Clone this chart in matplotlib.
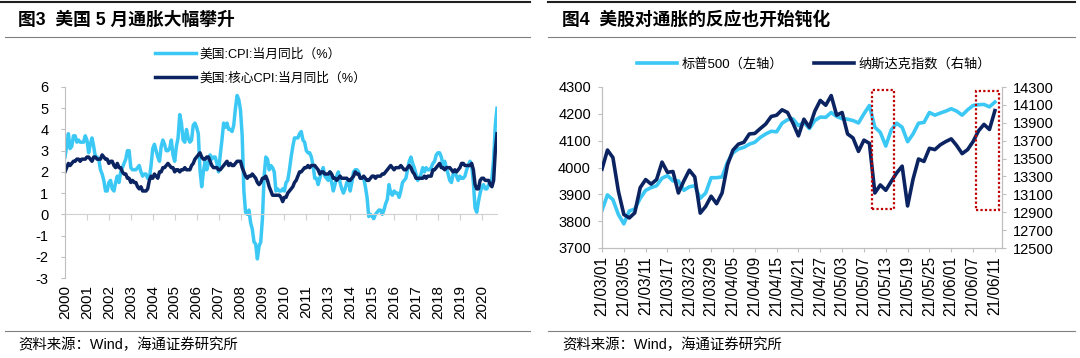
import matplotlib
matplotlib.use("Agg")
import matplotlib.pyplot as plt
from matplotlib.lines import Line2D
from matplotlib.patches import Rectangle
import numpy as np

plt.rcParams['font.family'] = ['Liberation Sans', 'Noto Sans CJK SC']
plt.rcParams['axes.unicode_minus'] = False

# ---------------- data: left chart (monthly, 2000-01 .. 2021-05) ----------------
cpi_yoy = [
    2.7, 3.2, 3.8, 3.1, 3.2, 3.7, 3.7, 3.4, 3.5, 3.4, 3.4, 3.4,
    3.7, 3.5, 2.9, 3.3, 3.6, 3.2, 2.7, 2.7, 2.6, 2.1, 1.9, 1.6,
    1.1, 1.1, 1.5, 1.6, 1.2, 1.1, 1.5, 1.8, 1.5, 2.0, 2.2, 2.4,
    2.6, 3.0, 3.0, 2.2, 2.1, 2.1, 2.1, 2.2, 2.3, 2.0, 1.8, 1.9,
    1.9, 1.7, 1.7, 2.3, 3.1, 3.3, 3.0, 2.7, 2.5, 3.2, 3.5, 3.3,
    3.0, 3.0, 3.1, 3.5, 2.8, 2.5, 3.2, 3.6, 4.7, 4.3, 3.5, 3.4,
    4.0, 3.6, 3.4, 3.5, 4.2, 4.3, 4.1, 3.8, 2.1, 1.3, 2.0, 2.5,
    2.1, 2.4, 2.8, 2.6, 2.7, 2.7, 2.4, 2.0, 2.8, 3.5, 4.3, 4.1,
    4.3, 4.0, 4.0, 3.9, 4.2, 5.0, 5.6, 5.4, 4.9, 3.7, 1.1, 0.1,
    0.0, 0.2, -0.4, -0.7, -1.3, -1.4, -2.1, -1.5, -1.3, -0.2, 1.8, 2.7,
    2.6, 2.1, 2.3, 2.2, 2.0, 1.1, 1.2, 1.1, 1.1, 1.2, 1.1, 1.5,
    1.6, 2.1, 2.7, 3.2, 3.6, 3.6, 3.6, 3.8, 3.9, 3.5, 3.4, 3.0,
    2.9, 2.9, 2.7, 2.3, 1.7, 1.7, 1.4, 1.7, 2.0, 2.2, 1.8, 1.7,
    1.6, 2.0, 1.5, 1.1, 1.4, 1.8, 2.0, 1.5, 1.2, 1.0, 1.2, 1.5,
    1.6, 1.1, 1.5, 2.0, 2.1, 2.1, 2.0, 1.7, 1.7, 1.7, 1.3, 0.8,
    -0.1, 0.0, -0.1, -0.2, 0.0, 0.1, 0.2, 0.2, 0.0, 0.2, 0.5, 0.7,
    1.4, 1.0, 0.9, 1.1, 1.0, 1.0, 0.8, 1.1, 1.5, 1.6, 1.7, 2.1,
    2.5, 2.7, 2.4, 2.2, 1.9, 1.6, 1.7, 1.9, 2.2, 2.0, 2.2, 2.1,
    2.1, 2.2, 2.4, 2.5, 2.8, 2.9, 2.9, 2.7, 2.3, 2.5, 2.2, 1.9,
    1.6, 1.5, 1.9, 2.0, 1.8, 1.6, 1.8, 1.7, 1.7, 1.8, 2.1, 2.3,
    2.5, 2.3, 1.5, 0.3, 0.1, 0.6, 1.0, 1.3, 1.4, 1.2, 1.2, 1.4,
    1.4, 1.7, 2.6, 4.2, 5.0,
]
core_cpi_yoy = [
    2.0, 2.2, 2.4, 2.3, 2.4, 2.5, 2.5, 2.6, 2.6, 2.5, 2.6, 2.6,
    2.6, 2.7, 2.7, 2.6, 2.5, 2.7, 2.7, 2.6, 2.6, 2.6, 2.8, 2.7,
    2.6, 2.6, 2.4, 2.5, 2.5, 2.3, 2.2, 2.4, 2.2, 2.2, 2.0, 1.9,
    1.9, 1.7, 1.7, 1.5, 1.6, 1.5, 1.5, 1.3, 1.2, 1.3, 1.1, 1.1,
    1.1, 1.2, 1.6, 1.8, 1.7, 1.9, 1.8, 1.7, 2.0, 2.0, 2.2, 2.2,
    2.3, 2.4, 2.3, 2.2, 2.2, 2.0, 2.1, 2.1, 2.0, 2.1, 2.1, 2.2,
    2.1, 2.1, 2.1, 2.3, 2.4, 2.6, 2.7, 2.8, 2.9, 2.7, 2.6, 2.6,
    2.7, 2.7, 2.5, 2.3, 2.2, 2.2, 2.2, 2.1, 2.1, 2.2, 2.3, 2.4,
    2.5, 2.3, 2.4, 2.3, 2.3, 2.4, 2.5, 2.5, 2.5, 2.2, 2.0, 1.8,
    1.7, 1.8, 1.8, 1.9, 1.8, 1.7, 1.5, 1.4, 1.5, 1.7, 1.7, 1.8,
    1.6, 1.3, 1.1, 0.9, 0.9, 0.9, 0.9, 0.9, 0.8, 0.6, 0.8, 0.8,
    1.0, 1.1, 1.2, 1.3, 1.5, 1.6, 1.8, 2.0, 2.0, 2.1, 2.2, 2.2,
    2.3, 2.2, 2.3, 2.3, 2.3, 2.2, 2.1, 1.9, 2.0, 2.0, 1.9, 1.9,
    1.9, 2.0, 1.9, 1.7, 1.7, 1.6, 1.7, 1.8, 1.7, 1.7, 1.7, 1.7,
    1.6, 1.6, 1.7, 1.8, 2.0, 1.9, 1.9, 1.7, 1.7, 1.8, 1.7, 1.6,
    1.6, 1.7, 1.8, 1.8, 1.7, 1.8, 1.8, 1.8, 1.9, 1.9, 2.0, 2.1,
    2.2, 2.3, 2.2, 2.1, 2.2, 2.2, 2.2, 2.3, 2.2, 2.1, 2.1, 2.2,
    2.3, 2.2, 2.0, 1.9, 1.7, 1.7, 1.7, 1.7, 1.7, 1.8, 1.7, 1.8,
    1.8, 1.8, 2.1, 2.1, 2.2, 2.3, 2.4, 2.2, 2.2, 2.1, 2.2, 2.2,
    2.2, 2.1, 2.0, 2.1, 2.0, 2.1, 2.2, 2.4, 2.4, 2.3, 2.3, 2.3,
    2.3, 2.4, 2.1, 1.4, 1.2, 1.2, 1.6, 1.7, 1.7, 1.6, 1.6, 1.6,
    1.4, 1.3, 1.6, 3.0, 3.8,
]
year_labels = ['2000', '2001', '2002', '2003', '2004', '2005', '2006', '2007',
               '2008', '2009', '2010', '2011', '2013', '2014', '2015', '2016',
               '2017', '2018', '2019', '2020']
cpi_label = '美国:CPI:当月同比（%）'
core_label = '美国:核心CPI:当月同比（%）'

# ---------------- data: right chart (trading days 2021-03-01 .. 2021-06-11) -----
spx = [3840, 3898, 3880, 3825, 3790, 3838, 3845, 3885, 3915, 3925,
       3932, 3960, 3970, 3950, 3950, 3915, 3928, 3932, 3885, 3905,
       3962, 3962, 3965, 4020, 4055, 4069, 4075, 4087, 4094, 4112,
       4125, 4135, 4133, 4165, 4178, 4181, 4156, 4168, 4145, 4175,
       4188, 4187, 4205, 4190, 4182, 4180, 4175, 4166, 4200, 4231,
       4150, 4131, 4080, 4140, 4165, 4150, 4096, 4125, 4165, 4168,
       4205, 4195, 4203, 4210, 4219, 4210, 4195, 4215, 4231, 4234,
       4235, 4226, 4244]
nasdaq = [13382, 13595, 13511, 13136, 12875, 12836, 12893, 13175, 13265, 13214,
          13265, 13460, 13346, 13355, 13115, 13250, 13370, 13295, 12890, 12965,
          13079, 12995, 13115, 13430, 13595, 13661, 13682, 13775, 13781, 13835,
          13886, 13970, 13985, 14045, 14015, 13895, 13754, 13940, 13850, 14030,
          14150, 14096, 14204, 13985, 14015, 13775, 13730, 13580, 13706, 13670,
          13115, 13205, 13145, 13244, 13340, 13415, 12970, 13270, 13495, 13468,
          13615, 13600, 13654, 13690, 13720, 13645, 13555, 13600, 13690, 13810,
          13882, 13825, 14036]
date_labels = ['21/03/01', '21/03/05', '21/03/11', '21/03/17', '21/03/23',
               '21/03/29', '21/04/05', '21/04/09', '21/04/15', '21/04/21',
               '21/04/27', '21/05/03', '21/05/07', '21/05/13', '21/05/19',
               '21/05/25', '21/06/01', '21/06/07', '21/06/11']
spx_label = '标普500（左轴）'
ndx_label = '纳斯达克指数（右轴）'
# highlight boxes: (start day, end day, low, high) on the right (Nasdaq) axis
box_days = [(49.4, 53.5), (68.6, 72.8)]
box_vals = [(12939, 14270), (12920, 14251)]

LIGHT = '#3CC8F5'
DARK = '#0B2461'
AXC = '#BFBFBF'
W, H = 1080, 358

fig = plt.figure(figsize=(W / 100, H / 100), dpi=100)


def fx(px):
    return px / W


def fy(py):
    return 1 - py / H


def hline(x0, x1, y, color, lw):
    fig.add_artist(Line2D([fx(x0), fx(x1)], [fy(y), fy(y)], color=color, lw=lw,
                          transform=fig.transFigure))


# frame lines
hline(0, 530, 2, '#202020', 1.5)
hline(5, 530, 37, '#808080', 0.8)
hline(5, 530, 331, '#808080', 0.8)
hline(548, 1075, 2, '#202020', 1.5)
hline(548, 1075, 37, '#808080', 0.8)
hline(548, 1075, 331, '#808080', 0.8)

fig.text(fx(18), fy(20), '图3  美国 5 月通胀大幅攀升', fontsize=12.8, fontweight='bold',
         va='center', ha='left', family=['Liberation Sans', 'Noto Sans CJK SC'])
fig.text(fx(562), fy(20), '图4  美股对通胀的反应也开始钝化', fontsize=12.8, fontweight='bold',
         va='center', ha='left', family=['Liberation Sans', 'Noto Sans CJK SC'])
fig.text(fx(18), fy(345), '资料来源：Wind，海通证券研究所', fontsize=10.4, va='center', ha='left')
fig.text(fx(562), fy(345), '资料来源：Wind，海通证券研究所', fontsize=10.4, va='center', ha='left')

# ---------------- left chart ----------------
ax1 = fig.add_axes([fx(65), fy(278), fx(497) - fx(65), fy(87) - fy(278)])
m = np.arange(len(cpi_yoy))
l1, = ax1.plot(m, cpi_yoy, color=LIGHT, lw=2.5, solid_joinstyle='round')
l2, = ax1.plot(np.arange(len(core_cpi_yoy)), core_cpi_yoy, color=DARK, lw=2.5,
               solid_joinstyle='round')
ax1.set_xlim(0, len(cpi_yoy) - 1)
ax1.set_ylim(-3, 6)
ax1.set_yticks(range(-3, 7))
for s in ['top', 'right']:
    ax1.spines[s].set_visible(False)
ax1.spines['left'].set_color(AXC)
ax1.spines['bottom'].set_position(('data', 0))
ax1.spines['bottom'].set_color('#D0D0D0')
xt = np.arange(0, len(cpi_yoy), 13)
ax1.set_xticks(xt)
ax1.tick_params(axis='x', direction='out', length=4, color='#D0D0D0', labelbottom=False)
ax1.tick_params(axis='y', direction='out', length=3, color=AXC, labelsize=10.5, pad=9)
sec = ax1.secondary_xaxis('bottom')
sec.set_xticks(xt, year_labels, rotation=90)
sec.tick_params(length=0, labelsize=11, pad=5)
sec.spines['bottom'].set_visible(False)

fig.legend([l1, l2], [cpi_label, core_label], loc='center left',
           bbox_to_anchor=(fx(155), fy(66.5)), frameon=False, fontsize=9.2,
           handlelength=3.2, handletextpad=0.25, labelspacing=0.95,
           borderpad=0, borderaxespad=0)

# ---------------- right chart ----------------
ax2 = fig.add_axes([fx(602), fy(248), fx(1002) - fx(602), fy(87) - fy(248)])
ax3 = ax2.twinx()
d = np.arange(len(spx))
p1, = ax2.plot(d, spx, color=LIGHT, lw=2.6, solid_joinstyle='round', zorder=2)
p2, = ax3.plot(np.arange(len(nasdaq)), nasdaq, color=DARK, lw=2.6,
               solid_joinstyle='round', zorder=3)
ax2.set_xlim(0, 73.3)
ax2.set_ylim(3700, 4300)
ax2.set_yticks(range(3700, 4301, 100))
ax3.set_ylim(12500, 14300)
ax3.set_yticks(range(12500, 14301, 200))
ax2.set_xticks(np.arange(0, len(spx), 4), date_labels, rotation=90)
for a in (ax2, ax3):
    a.spines['top'].set_visible(False)
    for s in ['left', 'right', 'bottom']:
        a.spines[s].set_color(AXC)
ax2.tick_params(axis='x', direction='out', length=3, color=AXC, labelsize=11.2, pad=3)
ax2.tick_params(axis='y', direction='out', length=3, color=AXC, labelsize=10.5, pad=5)
ax3.tick_params(axis='y', direction='out', length=3, color=AXC, labelsize=10.5, pad=5)

for (d0, d1), (v0, v1) in zip(box_days, box_vals):
    ax3.add_patch(Rectangle((d0, v0), d1 - d0, v1 - v0, fill=False,
                            edgecolor='#C00000', lw=1.6, ls=(0, (1, 1)), zorder=4))

fig.legend([p1, p2], [spx_label, ndx_label], loc='center left', ncol=2,
           bbox_to_anchor=(fx(637), fy(64)), frameon=False, fontsize=9.5,
           handlelength=3.0, handletextpad=0.35, columnspacing=2.4,
           borderpad=0, borderaxespad=0)

fig.savefig('out.png', dpi=100)
